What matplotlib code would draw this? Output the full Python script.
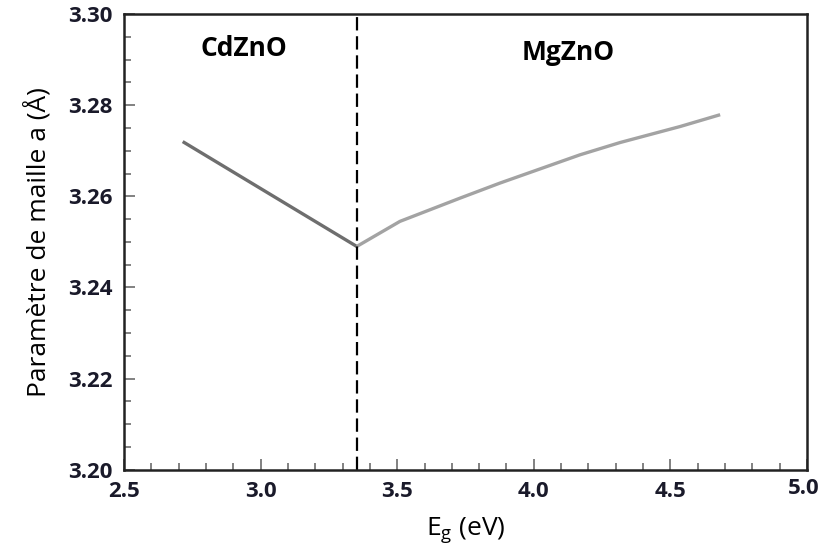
import numpy as np
import matplotlib.pyplot as plt
from matplotlib.ticker import MultipleLocator

# données
eg_cd = [2.715, 3.352]
a_cd = [3.2720, 3.2490]

eg_mg = [3.352, 3.510, 3.730, 3.876, 4.169, 4.316, 4.535, 4.682]
a_mg = [3.2490, 3.2545, 3.2596, 3.2629, 3.2691, 3.2718, 3.2753, 3.2779]

eg_zno = 3.352
x_max = 5.0

plt.rcParams['font.family'] = ['Open Sans', 'DejaVu Sans']

fig = plt.figure(figsize=(8.21, 5.58), dpi=100)
ax = fig.add_axes([0.151, 0.158, 0.832, 0.817])

ax.plot(eg_cd, a_cd, color='#6e6e6e', lw=2.4, solid_capstyle='butt')
ax.plot(eg_mg, a_mg, color='#a3a3a3', lw=2.4, solid_capstyle='butt', solid_joinstyle='round')
ax.axvline(eg_zno, color='black', lw=1.6, ls=(0, (6, 2.6)))

ax.text(2.94, 3.2925, 'CdZnO', fontsize=19, fontweight='bold', ha='center', va='center')
ax.text(4.125, 3.2915, 'MgZnO', fontsize=19, fontweight='bold', ha='center', va='center')

ax.set_xlim(2.5, x_max)
ax.set_ylim(3.20, 3.30)
ax.xaxis.set_major_locator(MultipleLocator(0.5))
ax.xaxis.set_minor_locator(MultipleLocator(0.1))
ax.yaxis.set_major_locator(MultipleLocator(0.02))
ax.yaxis.set_minor_locator(MultipleLocator(0.005))
# le label 5.0 est posé à part pour rester dans l'image
ax.xaxis.set_major_formatter(lambda v, p: '' if abs(v - x_max) < 1e-9 else f'{v:.1f}')
ax.yaxis.set_major_formatter(lambda v, p: f'{v:.2f}')

ax.tick_params(which='both', direction='in', top=False, right=False, color='#777777')
ax.tick_params(which='major', length=8, width=1.3, labelsize=16, pad=8)
ax.tick_params(which='minor', length=5, width=1.3)
for lab in ax.get_xticklabels() + ax.get_yticklabels():
    lab.set_fontweight('bold')
    lab.set_color('#1a1a2a')

ax.annotate(f'{x_max:.1f}', xy=(x_max, 0), xycoords=('data', 'axes fraction'),
            xytext=(9, -6), textcoords='offset points', ha='right', va='top',
            fontsize=16, fontweight='bold', color='#1a1a2a', annotation_clip=False)

for s in ax.spines.values():
    s.set_linewidth(1.8)
    s.set_color('#222222')

ax.set_xlabel(r'E$_\mathregular{g}$ (eV)', fontsize=19, labelpad=10)
ax.set_ylabel('Paramètre de maille a (Å)', fontsize=19, labelpad=12)

fig.savefig('out.png', dpi=100)
